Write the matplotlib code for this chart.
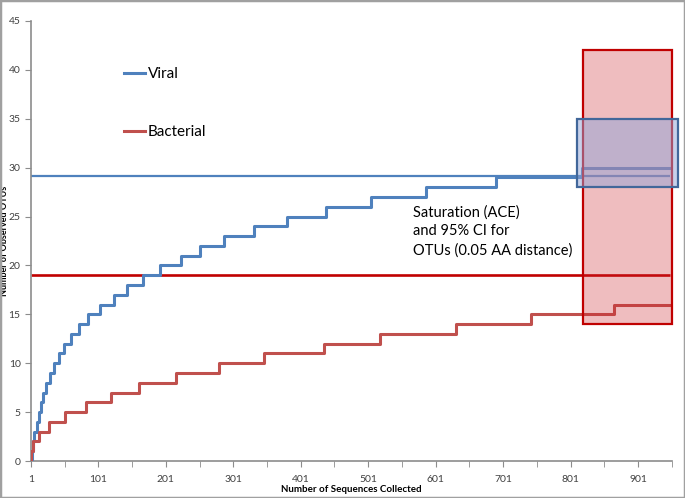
import numpy as np
from matplotlib import pyplot as plt
from matplotlib.patches import Rectangle

# sequence number at which the observed OTU count goes up by one
viral_steps = [2, 4, 6, 10, 13, 16, 19, 23, 29, 35, 43, 50, 60, 72, 86, 103, 124,
               144, 167, 192, 223, 252, 287, 331, 381, 439, 505, 586, 690, 818]
bacterial_steps = [1, 4, 13, 27, 51, 83, 119, 161, 216, 280, 347, 435, 519, 631, 743, 866]
n_sequences = 949

# ACE estimate and 95% CI
viral_ace = 29.1
viral_ci = [28, 35]
bacterial_ace = 19.05
bacterial_ci = [14, 42]

x_ticks = list(range(1, 952, 100))
y_ticks = list(range(0, 46, 5))

blue = '#4F81BD'
red = '#C0504D'


def step_curve(steps, last):
    x = [1] + steps + [last]
    y = [0] + list(range(1, len(steps) + 1)) + [len(steps)]
    return x, y


plt.rcParams['font.family'] = ['Lato', 'DejaVu Sans']

fig = plt.figure(figsize=(6.85, 4.98), dpi=100)
ax = fig.add_axes([31 / 685, 37 / 498, 641 / 685, 440 / 498])

vx, vy = step_curve(viral_steps, n_sequences)
bx, by = step_curve(bacterial_steps, n_sequences)

ax.hlines(viral_ace, 1, n_sequences, color=blue, lw=1.6, zorder=2)
ax.hlines(bacterial_ace, 1, n_sequences, color='#C00000', lw=1.9, zorder=2)
ax.step(vx, vy, where='post', color=blue, lw=2.2, label='Viral', zorder=3)
ax.step(bx, by, where='post', color=red, lw=2.2, label='Bacterial', zorder=3)

# confidence boxes
ax.add_patch(Rectangle((820, bacterial_ci[0]), 131, bacterial_ci[1] - bacterial_ci[0],
                       facecolor=(205 / 255, 38 / 255, 45 / 255, 0.3),
                       edgecolor='#C00000', lw=1.6, zorder=4, clip_on=False))
ax.add_patch(Rectangle((810, viral_ci[0]), 150, viral_ci[1] - viral_ci[0],
                       facecolor=(145 / 255, 165 / 255, 215 / 255, 0.5),
                       edgecolor='#41679A', lw=1.6, zorder=5, clip_on=False))

ax.text(0.596, 0.581, 'Saturation (ACE)\nand 95% CI for\nOTUs (0.05 AA distance)',
        transform=ax.transAxes, ha='left', va='top', fontsize=10.5,
        linespacing=1.42, color='black')

leg = ax.legend(loc='upper left', bbox_to_anchor=(0.145, 0.895), frameon=False,
                fontsize=11, handlelength=1.4, handletextpad=0.15,
                labelspacing=2.88, borderpad=0, borderaxespad=0)

ax.set_xlim(1, 951.5)
ax.set_ylim(0, 45)
ax.set_xticks(x_ticks)
ax.set_xticks(list(range(51, 952, 100)), minor=True)
ax.set_yticks(y_ticks)
ax.tick_params(which='both', direction='out', length=4, color='#8C8C8C',
               labelsize=7.5, labelcolor='#404040')
ax.tick_params(axis='x', pad=6)

for s in ['top', 'right']:
    ax.spines[s].set_visible(False)
for s in ['left', 'bottom']:
    ax.spines[s].set_color('#8C8C8C')
    ax.spines[s].set_linewidth(1.2)

ax.set_xlabel('Number of Sequences Collected', fontsize=7, fontweight='bold', labelpad=1)
ax.set_ylabel('Number of Observed OTUs', fontsize=6.5, fontweight='bold')
ax.yaxis.set_label_coords(-0.035, 0.5)

fig.patches.append(Rectangle((0, 0), 1, 1, transform=fig.transFigure, fill=False,
                             edgecolor='#A0A0A0', lw=2.5))

fig.savefig('out.png', dpi=100)
